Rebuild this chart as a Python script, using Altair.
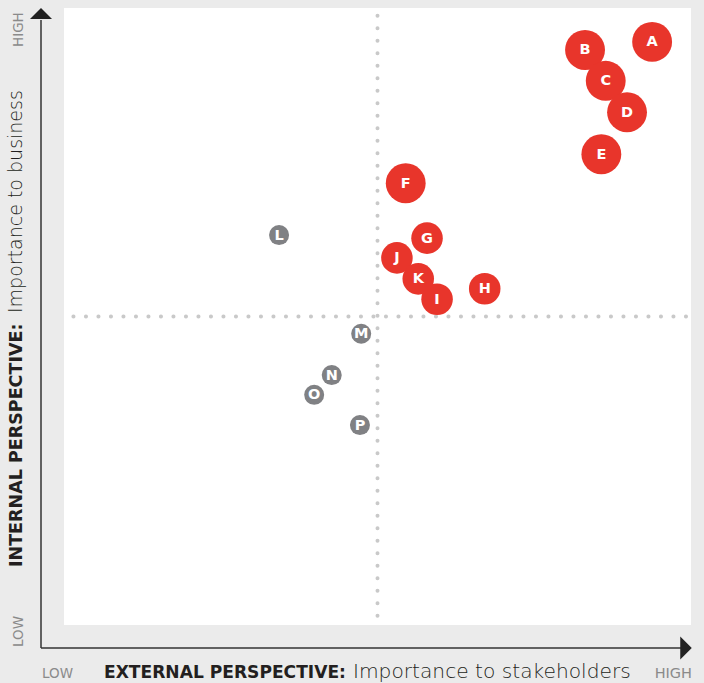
import altair as alt
import pandas as pd

# ---- data ----
labels = ["A", "B", "C", "D", "E", "F", "G", "H", "I", "J", "K", "L", "M", "N", "O", "P"]
external = [9.38, 8.31, 8.64, 8.98, 8.57, 5.45, 5.79, 6.71, 5.95, 5.31, 5.65, 3.43, 4.74, 4.27, 3.99, 4.72]
internal = [9.45, 9.32, 8.82, 8.31, 7.63, 7.16, 6.27, 5.45, 5.28, 5.95, 5.61, 6.32, 4.72, 4.05, 3.73, 3.24]
tier = ["major"] * 6 + ["minor"] * 5 + ["low"] * 5

df = pd.DataFrame({"label": labels, "external": external, "internal": internal, "tier": tier})

RED = "#e8352b"
GREY = "#808184"
FONT = "DejaVu Sans"

xs = alt.Scale(domain=[0, 10], nice=False, zero=False)
ys = alt.Scale(domain=[0, 10], nice=False, zero=False)

base = alt.Chart(df)

bubbles = base.mark_circle(opacity=1).encode(
    x=alt.X("external:Q", scale=xs, axis=None),
    y=alt.Y("internal:Q", scale=ys, axis=None),
    size=alt.Size("tier:N", scale=alt.Scale(domain=["major", "minor", "low"], range=[1590, 400, 400]), legend=None),
    color=alt.Color("tier:N", scale=alt.Scale(domain=["major", "minor", "low"], range=[RED, RED, GREY]), legend=None),
)

letters = base.mark_text(color="white", font=FONT, fontWeight="bold", fontSize=14.5, baseline="middle", align="center", dy=0.5).encode(
    x=alt.X("external:Q", scale=xs, axis=None),
    y=alt.Y("internal:Q", scale=ys, axis=None),
    text="label:N",
)

# quadrant dotted lines
mid = pd.DataFrame({"m": [5], "lo": [0.15], "hi": [9.95]})
vline = alt.Chart(mid).mark_rule(color="#c9c9c9", strokeWidth=4, strokeDash=[0.1, 12.4], strokeCap="round").encode(
    x=alt.X("m:Q", scale=xs, axis=None), y=alt.Y("lo:Q", scale=ys, axis=None), y2="hi:Q"
)
hline = alt.Chart(mid).mark_rule(color="#c9c9c9", strokeWidth=4, strokeDash=[0.1, 12.4], strokeCap="round").encode(
    y=alt.Y("m:Q", scale=ys, axis=None), x=alt.X("lo:Q", scale=xs, axis=None), x2="hi:Q"
)

one = pd.DataFrame({"k": [0]})

def rule(**enc):
    return alt.Chart(one).mark_rule(color="#333333", strokeWidth=1.5).encode(**enc)

yaxis_line = rule(x=alt.value(-23), y=alt.value(12), y2=alt.value(640))
xaxis_line = rule(y=alt.value(640), x=alt.value(-23), x2=alt.value(618))

up_arrow = alt.Chart(one).mark_point(shape="M0,-0.5L1,0.5L-1,0.5Z", filled=True, color="#222222", opacity=1, size=484).encode(
    x=alt.value(-23), y=alt.value(5.5)
)
right_arrow = alt.Chart(one).mark_point(shape="M0.5,0L-0.5,-1L-0.5,1Z", filled=True, color="#222222", opacity=1, size=529).encode(
    x=alt.value(622), y=alt.value(640)
)

def txt(text, x, y, size=16, weight="normal", color="#231f20", angle=0, align="left"):
    kw = dict(font=FONT, fontSize=size, fontWeight=weight, color=color, align=align, baseline="alphabetic")
    if angle:
        kw["angle"] = angle
    return alt.Chart(one).mark_text(**kw).encode(x=alt.value(x), y=alt.value(y), text=alt.value(text))

annotations = [
    txt("INTERNAL PERSPECTIVE:", -42, 559, size=17.5, weight="bold", angle=270),
    txt("Importance to business", -42, 305, size=19, weight=200, angle=270),
    txt("HIGH", -41, 39, size=13.5, color="#8a8a8a", angle=270),
    txt("LOW", -41, 639, size=13.5, color="#8a8a8a", angle=270),
    txt("LOW", -22, 670, size=13.5, color="#8a8a8a"),
    txt("EXTERNAL PERSPECTIVE:", 40, 670, size=17.1, weight="bold"),
    txt("Importance to stakeholders", 289, 670, size=20.2, weight=200),
    txt("HIGH", 628, 670, size=14.5, color="#8a8a8a", align="right"),
]

chart = alt.layer(
    vline, hline, bubbles, letters, yaxis_line, xaxis_line, up_arrow, right_arrow, *annotations
).properties(
    width=627,
    height=617,
    autosize=alt.AutoSizeParams(type="none"),
    padding={"left": 64, "top": 8, "right": 13, "bottom": 58},
    background="#ebebeb",
).configure_view(fill="white", strokeWidth=0)

chart.save("out.html", embed_options={"renderer": "svg", "actions": False})
